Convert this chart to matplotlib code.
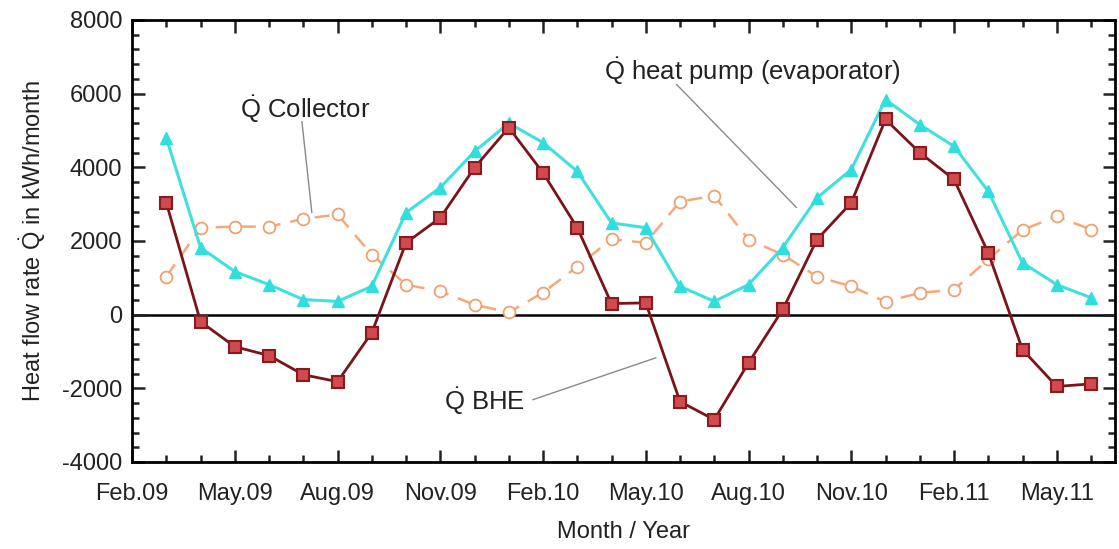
import matplotlib
matplotlib.use("Agg")
import matplotlib.pyplot as plt
from matplotlib.ticker import MultipleLocator, FixedLocator

plt.rcParams['font.family'] = ['Liberation Sans', 'DejaVu Sans']
plt.rcParams['mathtext.fontset'] = 'custom'
plt.rcParams['mathtext.rm'] = 'Liberation Sans'
plt.rcParams['mathtext.it'] = 'Liberation Sans'
plt.rcParams['axes.unicode_minus'] = False

# months since Feb.09 (Mar.09 = 1 ... Jun.11 = 28)
months = list(range(1, 29))

heat_pump = [4800, 1820, 1170, 815, 410, 360, 770, 2770, 3450, 4430,
             5200, 4670, 3890, 2490, 2360, 770, 360, 815, 1820, 3170,
             3940, 5840, 5160, 4570, 3350, 1410, 815, 460]

bhe = [3040, -190, -870, -1110, -1630, -1820, -490, 1950, 2630, 3990,
       5080, 3850, 2360, 300, 320, -2360, -2850, -1310, 140, 2040,
       3040, 5300, 4400, 3670, 1680, -950, -1950, -1880]

collector = [1030, 2360, 2390, 2390, 2600, 2720, 1630, 815, 630, 270,
             60, 600, 1300, 2050, 1950, 3070, 3230, 2040, 1630, 1030,
             770, 350, 590, 680, 1500, 2300, 2670, 2310]

tick_pos = [0, 3, 6, 9, 12, 15, 18, 21, 24, 27]
tick_labels = ['Feb.09', 'May.09', 'Aug.09', 'Nov.09', 'Feb.10', 'May.10',
               'Aug.10', 'Nov.10', 'Feb.11', 'May.11']

FS = 17

fig = plt.figure(figsize=(11.19, 5.49), dpi=100)
ax = fig.add_axes([0.118, 0.1585, 0.8784, 0.8051])

ax.axhline(0, color='black', lw=1.8, zorder=1)

ax.plot(months, collector, color='#f5a878', lw=1.8, ls=(0, (6, 4)),
        marker='o', ms=8.5, mfc='white', mec='#f0a070', mew=1.3, zorder=2)
ax.plot(months, heat_pump, color='#40e0e0', lw=2.2,
        marker='^', ms=8, mfc='#30dede', mec='#30dede', zorder=3)
ax.plot(months, bhe, color='#7a1418', lw=2.0,
        marker='s', ms=8, mfc='#d04a4e', mec='#8a1a1e', mew=1.5, zorder=4)

ax.set_xlim(0, 28.7)
ax.set_ylim(-4000, 8000)
ax.xaxis.set_major_locator(FixedLocator(tick_pos))
ax.set_xticklabels(tick_labels)
ax.xaxis.set_minor_locator(MultipleLocator(1))
ax.yaxis.set_major_locator(MultipleLocator(2000))
ax.yaxis.set_minor_locator(MultipleLocator(400))

ax.tick_params(which='both', direction='in', top=True, right=True,
               labelsize=FS, width=1.8, color='#222222', labelcolor='#222222')
ax.tick_params(which='major', length=9)
ax.tick_params(axis='x', which='major', pad=15)
ax.tick_params(axis='y', which='major', pad=7)
ax.tick_params(which='minor', length=5)
for s in ax.spines.values():
    s.set_linewidth(2.0)

ax.set_xlabel('Month / Year', fontsize=FS, labelpad=12, color='#222222')
ax.set_ylabel(r'Heat flow rate $\dot{\mathrm{Q}}$ in kWh/month', fontsize=FS,
              labelpad=10, color='#222222')

line_kw = dict(arrowstyle='-', color='#8a8a8a', lw=1.0, shrinkA=0, shrinkB=0)

ax.text(5.05, 5570, r'$\dot{\mathrm{Q}}$ Collector', fontsize=FS + 1.5,
        ha='center', va='center', color='#222222')
ax.annotate('', xy=(5.25, 2770), xytext=(4.96, 5240), arrowprops=line_kw)

ax.text(18.1, 6620, r'$\dot{\mathrm{Q}}$ heat pump (evaporator)', fontsize=FS + 1.5,
        ha='center', va='center', color='#222222')
ax.annotate('', xy=(19.4, 2910), xytext=(15.9, 6250), arrowprops=line_kw)

ax.text(10.3, -2350, r'$\dot{\mathrm{Q}}$ BHE', fontsize=FS + 1.5,
        ha='center', va='center', color='#222222')
ax.annotate('', xy=(15.3, -1170), xytext=(11.7, -2310), arrowprops=line_kw)

fig.savefig('out.png', dpi=100)
